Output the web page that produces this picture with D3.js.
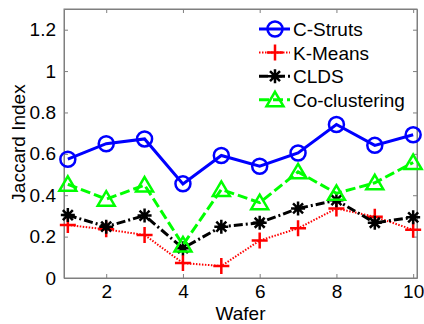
<!DOCTYPE html>
<html>
<head>
<meta charset="utf-8">
<script src="https://cdn.jsdelivr.net/npm/d3@7"></script>
<style>
  body { margin: 0; background: #fff; }
  text { font-family: Arial, "Liberation Sans", sans-serif; }
</style>
</head>
<body>
<svg id="chart" width="424" height="324"></svg>
<script>
const wafers = [1, 2, 3, 4, 5, 6, 7, 8, 9, 10];
const cStruts = [0.574, 0.649, 0.672, 0.455, 0.592, 0.540, 0.604, 0.742, 0.641, 0.692];
const kMeans = [0.256, 0.235, 0.208, 0.072, 0.058, 0.181, 0.240, 0.336, 0.296, 0.233];
const clds = [0.304, 0.248, 0.302, 0.144, 0.248, 0.267, 0.336, 0.376, 0.267, 0.293];
const coClustering = [0.453, 0.381, 0.449, 0.160, 0.428, 0.364, 0.513, 0.409, 0.460, 0.558];
const xTicks = [2, 4, 6, 8, 10];
const yTicks = [0, 0.2, 0.4, 0.6, 0.8, 1, 1.2];

const svg = d3.select('#chart');
const margin = { top: 9, right: 7, bottom: 46, left: 64 };
const width = 424, height = 324;

const x = d3.scaleLinear().domain([0.9, 10.1]).range([margin.left, width - margin.right]);
const y = d3.scaleLinear().domain([0, 1.3]).range([height - margin.bottom, margin.top]);

const axisColor = '#7f7f7f';
const fontSize = 19;

// frame
svg.append('rect')
  .attr('x', x(0.9)).attr('y', y(1.3))
  .attr('width', x(10.1) - x(0.9)).attr('height', y(0) - y(1.3))
  .attr('fill', 'none').attr('stroke', axisColor).attr('stroke-width', 1);

// axes, ticks point inward and are mirrored on top/right
const fmt = d => d3.format('~g')(d);
const styleAxis = g => {
  g.select('.domain').attr('stroke', axisColor);
  g.selectAll('.tick line').attr('stroke', axisColor);
  g.selectAll('.tick text').attr('fill', '#000').attr('font-size', fontSize)
    .attr('font-family', 'Arial, "Liberation Sans", sans-serif');
};
svg.append('g')
  .attr('transform', `translate(0,${y(0)})`)
  .call(d3.axisBottom(x).tickValues(xTicks).tickSizeInner(-4).tickSizeOuter(0).tickPadding(7).tickFormat(fmt))
  .call(styleAxis);
svg.append('g')
  .attr('transform', `translate(0,${y(1.3)})`)
  .call(d3.axisTop(x).tickValues(xTicks).tickSizeInner(-4).tickSizeOuter(0).tickFormat(''))
  .call(styleAxis);
svg.append('g')
  .attr('transform', `translate(${x(0.9)},0)`)
  .call(d3.axisLeft(y).tickValues(yTicks).tickSizeInner(-4).tickSizeOuter(0).tickPadding(8).tickFormat(fmt))
  .call(styleAxis);
svg.append('g')
  .attr('transform', `translate(${x(10.1)},0)`)
  .call(d3.axisRight(y).tickValues(yTicks).tickSizeInner(-4).tickSizeOuter(0).tickFormat(''))
  .call(styleAxis);

// axis labels
svg.append('text')
  .attr('x', (x(0.9) + x(10.1)) / 2).attr('y', 320)
  .attr('text-anchor', 'middle').attr('font-size', fontSize).text('Wafer');
svg.append('text')
  .attr('transform', `translate(25,${(y(0) + y(1.3)) / 2}) rotate(-90)`)
  .attr('text-anchor', 'middle').attr('font-size', fontSize).text('Jaccard Index');

// marker drawers
const markers = {
  circle: (g, color) => g.append('circle').attr('r', 7.5).attr('fill', 'none').attr('stroke', color).attr('stroke-width', 2.5),
  plus: (g, color) => g.append('path').attr('d', 'M-8,0H8M0,-8V8').attr('stroke', color).attr('stroke-width', 2.5),
  star: (g, color) => g.append('path')
    .attr('d', 'M-7,0H7M0,-7V7M-5,-5L5,5M-5,5L5,-5').attr('stroke', color).attr('stroke-width', 2.5),
  triangle: (g, color) => g.append('path').attr('d', 'M0,-8L8.5,6.5H-8.5Z')
    .attr('fill', 'none').attr('stroke', color).attr('stroke-width', 2.5)
};

const series = [
  { name: 'C-Struts', values: cStruts, color: '#0000ff', dash: null, width: 3, marker: 'circle' },
  { name: 'K-Means', values: kMeans, color: '#ff0000', dash: '1.5,1.5', width: 2, marker: 'plus' },
  { name: 'CLDS', values: clds, color: '#000000', dash: '9,3,2,3', width: 3, marker: 'star' },
  { name: 'Co-clustering', values: coClustering, color: '#00ff00', dash: '10,4', width: 3, marker: 'triangle' }
];

const line = d3.line().x(d => x(d[0])).y(d => y(d[1]));

series.forEach(s => {
  const pts = wafers.map((w, i) => [w, s.values[i]]);
  svg.append('path')
    .datum(pts)
    .attr('d', line)
    .attr('fill', 'none')
    .attr('stroke', s.color)
    .attr('stroke-width', s.width)
    .attr('stroke-dasharray', s.dash);
  pts.forEach(p => {
    const g = svg.append('g').attr('transform', `translate(${x(p[0])},${y(p[1])})`);
    markers[s.marker](g, s.color);
  });
});

// legend (no box)
const legend = svg.append('g').attr('transform', 'translate(259,29)');
series.forEach((s, i) => {
  const row = legend.append('g').attr('transform', `translate(0,${i * 23.6})`);
  row.append('line')
    .attr('x1', 0).attr('x2', 31).attr('y1', 0).attr('y2', 0)
    .attr('stroke', s.color).attr('stroke-width', s.width)
    .attr('stroke-dasharray', s.dash);
  markers[s.marker](row.append('g').attr('transform', 'translate(16,0)'), s.color);
  row.append('text')
    .attr('x', 34).attr('y', 7)
    .attr('font-size', fontSize)
    .text(s.name);
});
</script>
</body>
</html>
